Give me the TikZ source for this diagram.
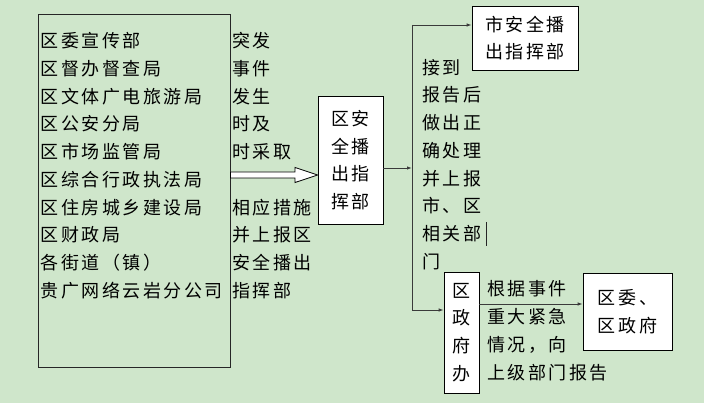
\documentclass[tikz,border=0pt]{standalone}
\usepackage{fontspec}
\newfontfamily\cjk[LetterSpace=14]{Noto Sans CJK SC}
\usetikzlibrary{arrows.meta,positioning,calc}
\definecolor{bggreen}{HTML}{CFE6CB}
\definecolor{linegray}{HTML}{3A3A3A}

\tikzset{
  txt/.style={anchor=west, inner sep=0pt, font=\cjk\fontsize{18}{27.7}\selectfont},
  box/.style={draw=black, fill=white, line width=0.8pt, inner sep=0pt, align=center,
    font=\cjk\fontsize{18}{27.7}\selectfont},
  link/.style={draw=linegray, line width=0.9pt, -{Latex[length=5pt,width=3.5pt]}},
}

\begin{document}
\begin{tikzpicture}[x=1pt,y=-1pt]
  \fill[bggreen] (0,0) rectangle (704,403);
  \useasboundingbox (0,0) rectangle (704,403);

  % Departments frame and list
  \node[draw=black!85, line width=0.9pt, minimum width=192pt, minimum height=353pt, inner sep=0pt] (src) at (134,190.5) {};
  \foreach \txt [count=\i from 0] in {区委宣传部,区督办督查局,区文体广电旅游局,区公安分局,区市场监管局,
    区综合行政执法局,区住房城乡建设局,区财政局,各街道（镇）,贵广网络云岩分公司} {
    \node[txt] (dep\i) at (40.5,41+27.7*\i) {\txt};
  }

  % Reporting note beside the frame
  \foreach \txt/\r in {突发/0,事件/1,发生/2,时及/3,时采取/4,相应措施/6,并上报区/7,安全播出/8,指挥部/9} {
    \node[txt] (note\r) at (232,41+27.7*\r) {\txt};
  }

  % Command boxes
  \node[box, minimum width=65pt, minimum height=128pt] (ctr) at (350.5,160) {区安\\全播\\出指\\挥部};
  \node[box, minimum width=106pt, minimum height=64pt] (city) at (525,38) {市安全播\\出指挥部};
  \node[box, minimum width=35pt, minimum height=121pt] (gov) at (461.5,332.5) {区\\政\\府\\办};
  \node[box, minimum width=89pt, minimum height=77pt, align=left] (party) at (627.5,311.5) {区委、\\区政府};

  % Hollow arrow into the district command
  \draw[draw=black, fill=white, line width=0.8pt]
    (src.east |- 0,172) -- (295,172) -- (295,167.5) -- (ctr.west |- 0,175)
    -- (295,182.5) -- (295,178) -- (src.east |- 0,178) -- cycle;

  % Handling note along the trunk
  \foreach \txt [count=\i from 0] in {接到,报告后,做出正,确处理,并上报,市、区,相关部,门} {
    \node[txt] (rep\i) at (422,67.5+27.7*\i) {\txt};
  }
  \draw[line width=1.1pt, black!85] (486.5,222) -- (486.5,246);

  % Escalation note
  \foreach \txt [count=\i from 0] in {根据事件,重大紧急,情况，向,上级部门报告} {
    \node[txt] (rpt\i) at (487,289+28*\i) {\txt};
  }

  % Connectors
  \coordinate (ttop) at (412,25);
  \coordinate (tmid) at (412,168);
  \coordinate (tbot) at (412,310);
  \draw[draw=linegray, line width=0.9pt] (ttop) -- (tbot);
  \draw[link] (ctr.east |- tmid) -- (tmid);
  \draw[link] (ttop) -- (city.west |- ttop);
  \draw[link] (tbot) -- (gov.west |- tbot);
  \draw[link] (gov.east |- 0,304) -- (party.west |- 0,304);
\end{tikzpicture}
\end{document}
